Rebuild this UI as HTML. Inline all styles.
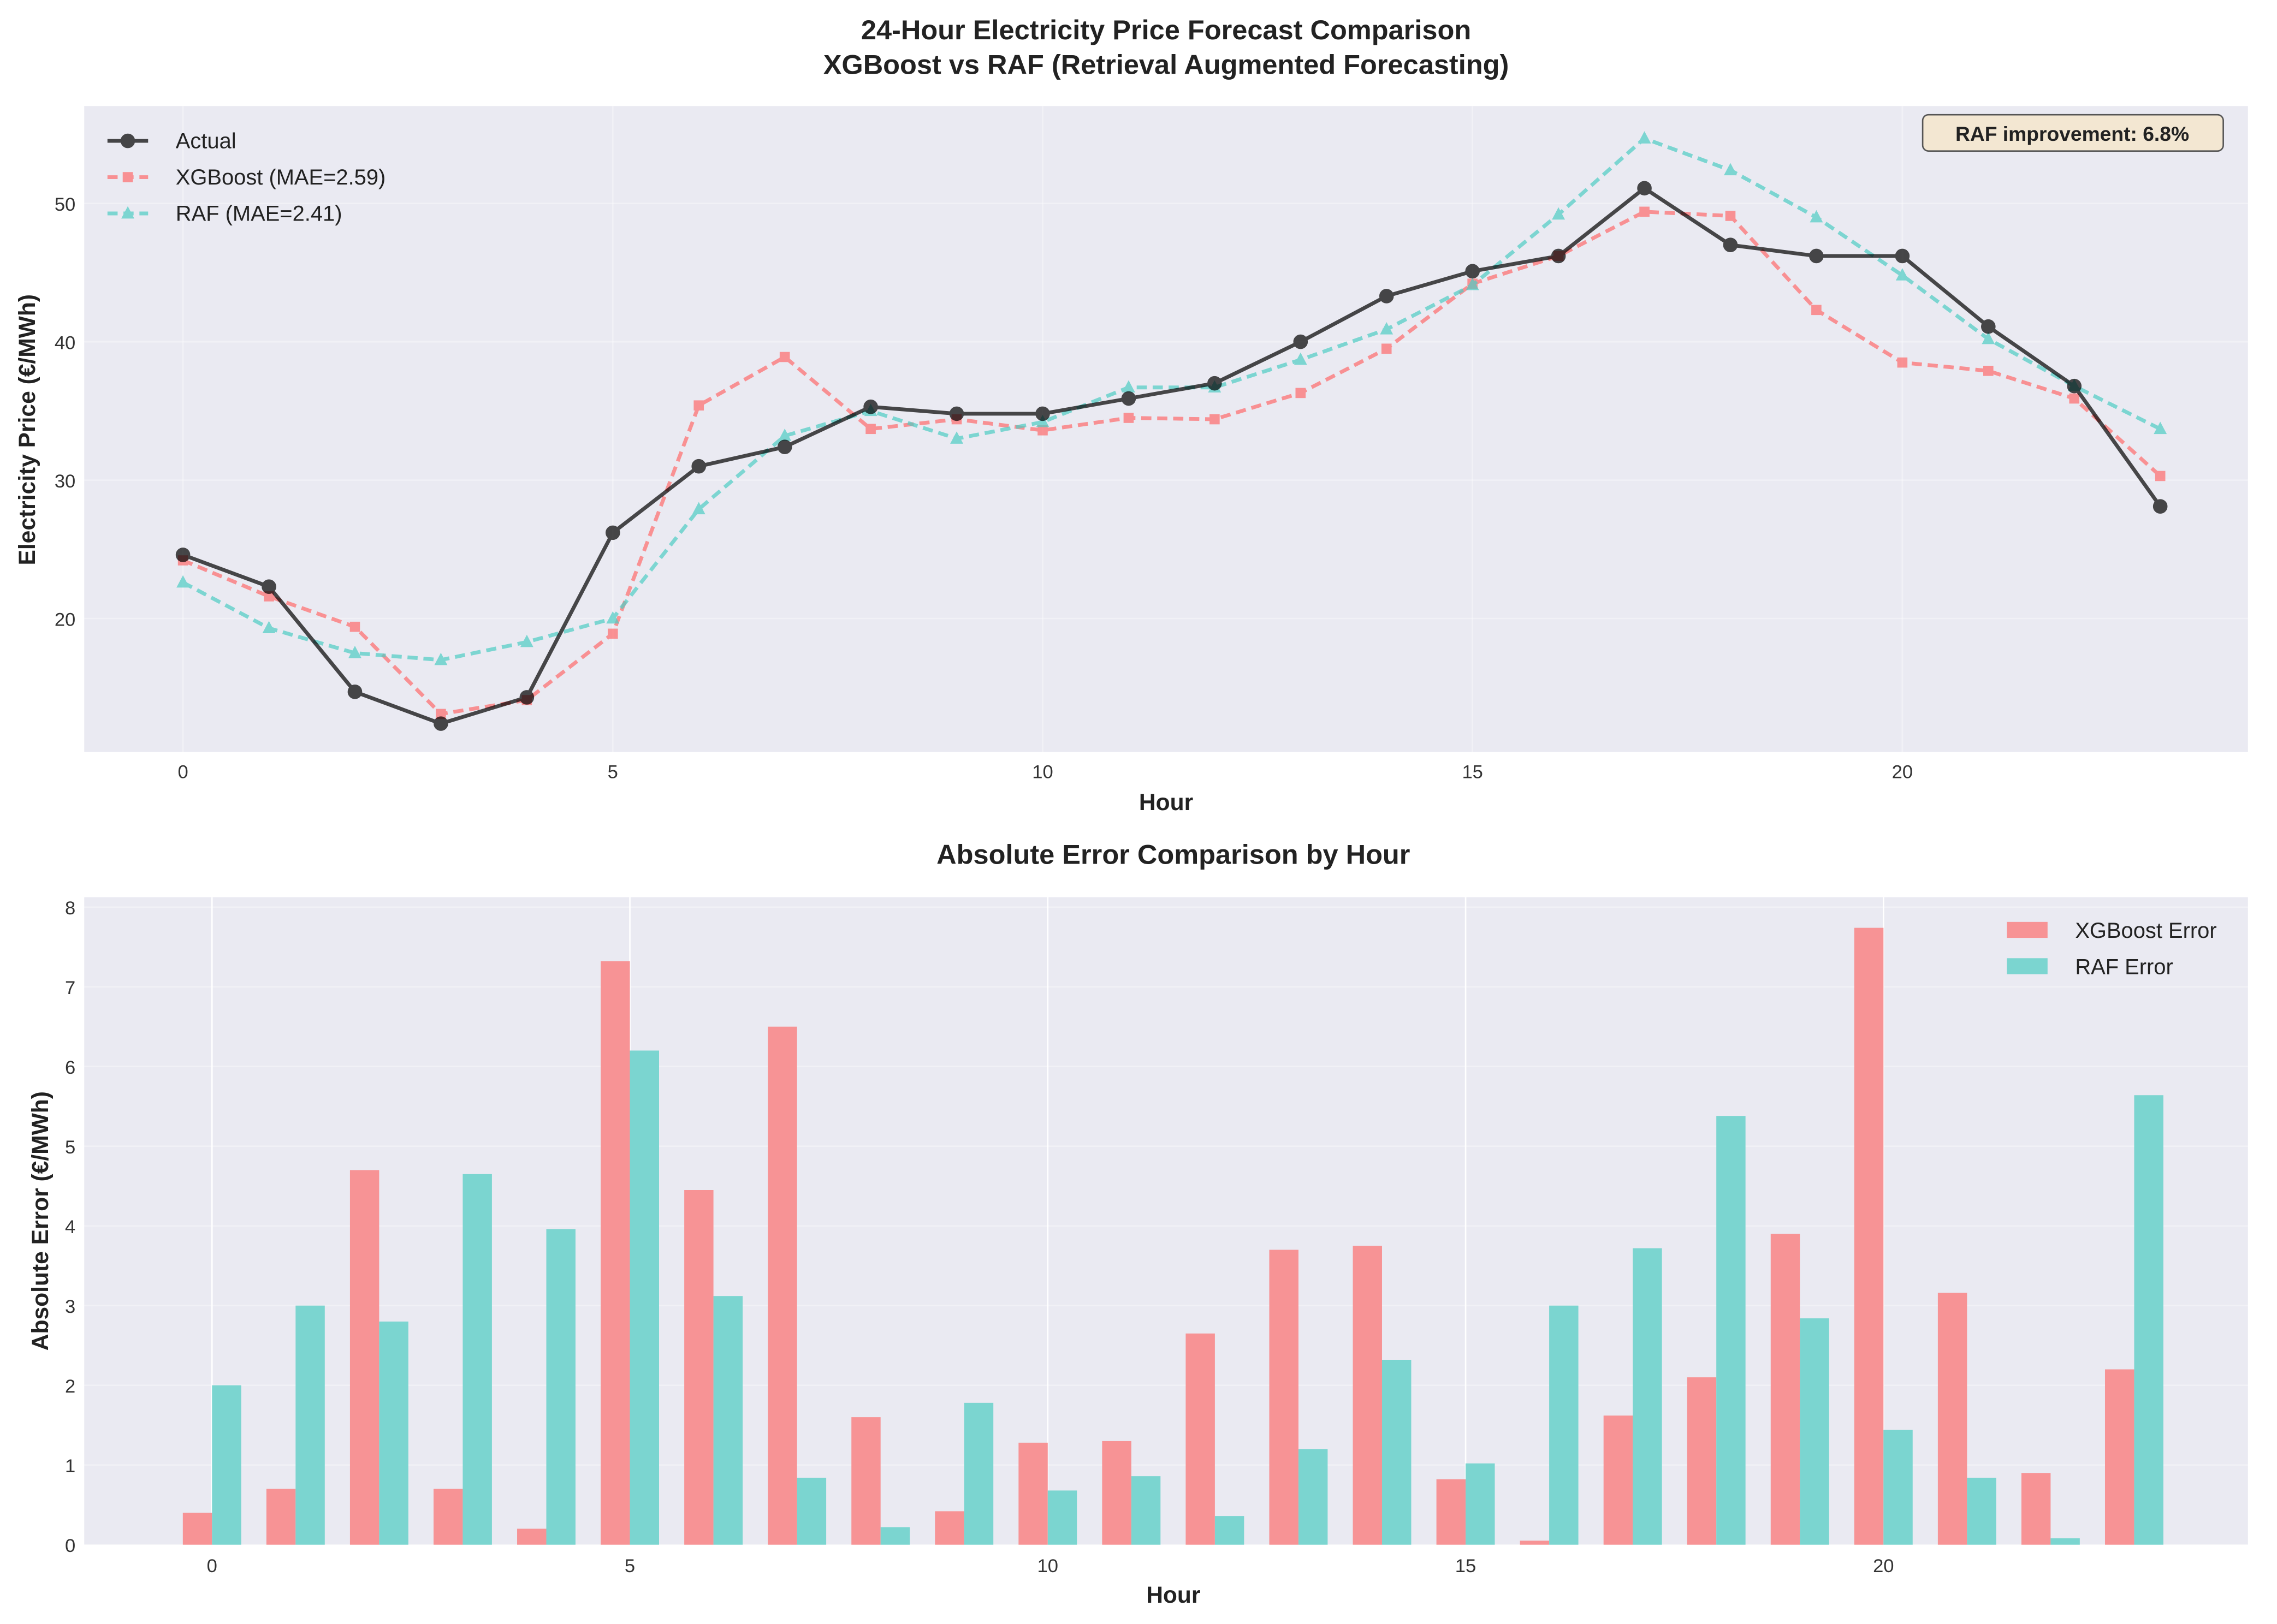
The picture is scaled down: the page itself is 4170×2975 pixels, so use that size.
<!DOCTYPE html>
<html><head><meta charset="utf-8"><style>
html,body{margin:0;padding:0;background:#fff;}
svg{display:block;font-family:"Liberation Sans",sans-serif;}
</style></head><body>
<svg id="chart" width="4170" height="2975" viewBox="0 0 1568 1118.6" xmlns="http://www.w3.org/2000/svg">
<rect width="1568" height="1118.6" fill="#fff"/>
<text x="803" y="27" text-anchor="middle" font-size="19" font-weight="bold" fill="#222">24-Hour Electricity Price Forecast Comparison</text>
<text x="803" y="51" text-anchor="middle" font-size="19" font-weight="bold" fill="#222">XGBoost vs RAF (Retrieval Augmented Forecasting)</text>
<g id="top"></g>
<g id="bot"></g>
</svg>
<script>
const hours=[0,1,2,3,4,5,6,7,8,9,10,11,12,13,14,15,16,17,18,19,20,21,22,23];
const actual=[24.6,22.3,14.7,12.4,14.3,26.2,31.0,32.4,35.3,34.8,34.8,35.9,37.0,40.0,43.3,45.1,46.2,51.1,47.0,46.2,46.2,41.1,36.8,28.1];
const xgbPred=[24.2,21.6,19.4,13.1,14.1,18.9,35.4,38.9,33.7,34.4,33.6,34.5,34.4,36.3,39.5,44.2,46.2,49.4,49.1,42.3,38.5,37.9,35.9,30.3];
const rafPred=[22.6,19.3,17.5,17.0,18.3,20.0,27.9,33.2,35.0,33.0,34.2,36.7,36.7,38.7,40.9,44.1,49.2,54.7,52.4,49.0,44.8,40.2,36.8,33.7];
const xgbErr=[0.4,0.7,4.7,0.7,0.2,7.32,4.45,6.5,1.6,0.42,1.28,1.3,2.65,3.7,3.75,0.82,0.05,1.62,2.1,3.9,7.74,3.16,0.9,2.2];
const rafErr=[2.0,3.0,2.8,4.65,3.96,6.2,3.12,0.84,0.22,1.78,0.68,0.86,0.36,1.2,2.32,1.02,3.0,3.72,5.38,2.84,1.44,0.84,0.08,5.64];
const topXTicks=[0,5,10,15,20];
const topYTicks=[20,30,40,50];
const botYTicks=[0,1,2,3,4,5,6,7,8];

const NS="http://www.w3.org/2000/svg";
function mk(p,t,a,txt){const e=document.createElementNS(NS,t);for(const k in a)e.setAttribute(k,a[k]);if(txt!==undefined)e.textContent=txt;p.appendChild(e);return e;}

const T=document.getElementById('top');
const tx=h=>126+h*59.2, ty=v=>426-(v-20)*9.53;
let r=mk(T,'rect',{x:58,y:73,width:1490,height:445,fill:'#eaeaf2'});

topXTicks.forEach(t=>{mk(T,'line',{x1:tx(t),x2:tx(t),y1:73,y2:518,stroke:'#fff','stroke-width':1,opacity:0.35});
 let l=mk(T,'text',{x:tx(t),y:536,'text-anchor':'middle','font-size':13,fill:'#333'},t);
 });
topYTicks.forEach(t=>{mk(T,'line',{x1:58,x2:1548,y1:ty(t),y2:ty(t),stroke:'#fff','stroke-width':1,opacity:0.35});
 let l=mk(T,'text',{x:52,y:ty(t)+5,'text-anchor':'end','font-size':13,fill:'#333'},t);
 });
let xl=mk(T,'text',{x:803,y:558,'text-anchor':'middle','font-size':16,'font-weight':'bold',fill:'#222'},'Hour');

let yl=mk(T,'text',{x:24,y:296,'text-anchor':'middle','font-size':16,'font-weight':'bold',fill:'#222',transform:'rotate(-90 24 296)'},'Electricity Price (€/MWh)');


function series(vals,color,dash,marker,name){
 const g=mk(T,'g',{opacity:0.7});
 
 mk(g,'polyline',{points:vals.map((v,i)=>tx(hours[i])+','+ty(v)).join(' '),fill:'none',stroke:color,'stroke-width':2.6,'stroke-dasharray':dash});
 vals.forEach((v,i)=>drawMarker(g,tx(hours[i]),ty(v),color,marker));
}
function drawMarker(g,x,y,c,m){
 if(m==='o')mk(g,'circle',{cx:x,cy:y,r:4.5,fill:c,stroke:'#000','stroke-width':1});
 else if(m==='s')mk(g,'rect',{x:x-3.5,y:y-3.5,width:7,height:7,fill:c});
 else mk(g,'polygon',{points:`${x},${y-5} ${x-4.5},${y+3.5} ${x+4.5},${y+3.5}`,fill:c});
}
series(xgbPred,'#ff6b6b','7,4','s','xgboost-line');
series(rafPred,'#4ecdc4','7,4','^','raf-line');
series(actual,'#000','','o','actual-line');

const leg=[['Actual','#000','','o'],['XGBoost (MAE=2.59)','#ff6b6b','7,4','s'],['RAF (MAE=2.41)','#4ecdc4','7,4','^']];
leg.forEach((d,i)=>{const y=97+i*25;const g=mk(T,'g',{opacity:1});
 
 const gg=mk(g,'g',{opacity:0.7});
 mk(gg,'line',{x1:74,x2:102,y1:y,y2:y,stroke:d[1],'stroke-width':2.6,'stroke-dasharray':d[2]});
 drawMarker(gg,88,y,d[1],d[3]);
 mk(g,'text',{x:121,y:y+5,'font-size':15,fill:'#222'},d[0]);});
const bx=mk(T,'g',{});

mk(bx,'rect',{x:1324,y:79,width:207,height:25,rx:4,fill:'#f3e7d2',stroke:'#555','stroke-width':1});
mk(bx,'text',{x:1427,y:97,'text-anchor':'middle','font-size':14,'font-weight':'bold',fill:'#222'},'RAF improvement: 6.8%');

const B=document.getElementById('bot');
const bxf=h=>146+h*57.55, by=v=>1064-v*54.9;
let t2=mk(B,'text',{x:808,y:595,'text-anchor':'middle','font-size':19,'font-weight':'bold',fill:'#222'},'Absolute Error Comparison by Hour');

let r2=mk(B,'rect',{x:58,y:618,width:1490,height:446,fill:'#eaeaf2'});

topXTicks.forEach(t=>{mk(B,'line',{x1:bxf(t),x2:bxf(t),y1:618,y2:1064,stroke:'#fff','stroke-width':1});
 let l=mk(B,'text',{x:bxf(t),y:1083,'text-anchor':'middle','font-size':13,fill:'#333'},t);
 });
botYTicks.forEach(t=>{mk(B,'line',{x1:58,x2:1548,y1:by(t),y2:by(t),stroke:'#fff','stroke-width':1,opacity:0.35});
 let l=mk(B,'text',{x:52,y:by(t)+5,'text-anchor':'end','font-size':13,fill:'#333'},t);
 });
let xl2=mk(B,'text',{x:808,y:1104,'text-anchor':'middle','font-size':16,'font-weight':'bold',fill:'#222'},'Hour');

let yl2=mk(B,'text',{x:33,y:841,'text-anchor':'middle','font-size':16,'font-weight':'bold',fill:'#222',transform:'rotate(-90 33 841)'},'Absolute Error (€/MWh)');

hours.forEach((h,i)=>{
 let a=mk(B,'rect',{x:bxf(h)-20.1,y:by(xgbErr[i]),width:20.1,height:1064-by(xgbErr[i]),fill:'#f79395'});
 
 let b=mk(B,'rect',{x:bxf(h),y:by(rafErr[i]),width:20.1,height:1064-by(rafErr[i]),fill:'#7bd5d0'});
 
});
[['XGBoost Error','#f79395'],['RAF Error','#7bd5d0']].forEach((d,i)=>{const y=641+i*25;const g=mk(B,'g',{});
 
 mk(g,'rect',{x:1382,y:y-6,width:28,height:11,fill:d[1]});
 mk(g,'text',{x:1429,y:y+5,'font-size':15,fill:'#222'},d[0]);});
</script>
</body></html>
